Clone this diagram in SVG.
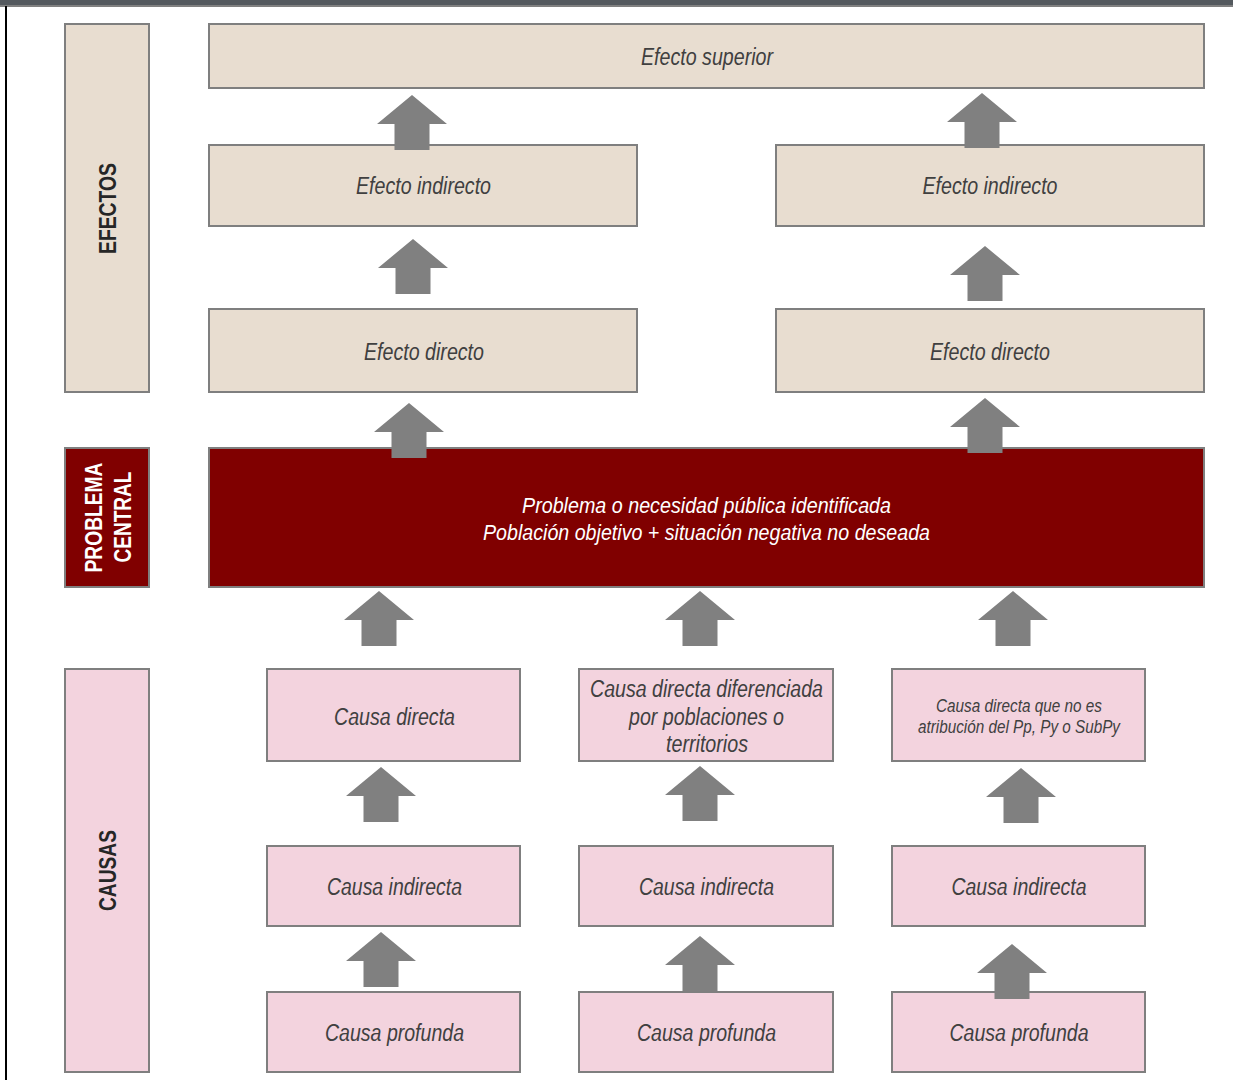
<svg xmlns="http://www.w3.org/2000/svg" width="1233" height="1080" viewBox="0 0 1233 1080">
<style>
.ef{fill:#e8ddd0;stroke:#7f7f7f;stroke-width:2}
.ca{fill:#f3d3de;stroke:#7f7f7f;stroke-width:2}
.pc{fill:#800000;stroke:#7f7f7f;stroke-width:2}
.t{font-family:"Liberation Sans",Arial,sans-serif;font-style:italic;font-size:23px;fill:#404040;text-anchor:middle}
.ts{font-size:17.5px}
.tw{fill:#ffffff;font-size:21.5px}
.lab{font-family:"Liberation Sans",Arial,sans-serif;font-weight:bold;font-size:23px;fill:#262626;text-anchor:middle}
.labw{fill:#ffffff}
.arr{fill:#808080}
</style>
<defs>
<path id="arr" class="arr" d="M0,0 L35,29 L17.5,29 L17.5,55 L-17.5,55 L-17.5,29 L-35,29 Z"/>
</defs>
<rect x="0" y="0" width="1233" height="1080" fill="#ffffff"/>
<rect x="0" y="0" width="1233" height="5" fill="#54595e"/>
<rect x="0" y="5" width="1233" height="2" fill="#808080"/>
<rect x="5" y="6" width="2" height="1074" fill="#000000"/>

<g id="label-efectos">
<rect class="ef" x="65" y="24" width="84" height="368"/>
<text class="lab" transform="translate(116,208.5) rotate(-90)" textLength="91" lengthAdjust="spacingAndGlyphs">EFECTOS</text>
</g>
<g id="label-problema">
<rect class="pc" x="65" y="448" width="84" height="139"/>
<text class="lab labw" transform="translate(102,517.5) rotate(-90)" textLength="110" lengthAdjust="spacingAndGlyphs">PROBLEMA</text>
<text class="lab labw" transform="translate(131,517) rotate(-90)" textLength="91" lengthAdjust="spacingAndGlyphs">CENTRAL</text>
</g>
<g id="label-causas">
<rect class="ca" x="65" y="669" width="84" height="403"/>
<text class="lab" transform="translate(116,870.5) rotate(-90)" textLength="81" lengthAdjust="spacingAndGlyphs">CAUSAS</text>
</g>

<g id="efecto-superior">
<rect class="ef" x="209" y="24" width="995" height="64"/>
<text class="t" x="707" y="65" textLength="132" lengthAdjust="spacingAndGlyphs">Efecto superior</text>
</g>
<g id="efecto-indirecto-1">
<rect class="ef" x="209" y="145" width="428" height="81"/>
<text class="t" x="423.5" y="194" textLength="135" lengthAdjust="spacingAndGlyphs">Efecto indirecto</text>
</g>
<g id="efecto-indirecto-2">
<rect class="ef" x="776" y="145" width="428" height="81"/>
<text class="t" x="990" y="194" textLength="135" lengthAdjust="spacingAndGlyphs">Efecto indirecto</text>
</g>
<g id="efecto-directo-1">
<rect class="ef" x="209" y="309" width="428" height="83"/>
<text class="t" x="424" y="360" textLength="120" lengthAdjust="spacingAndGlyphs">Efecto directo</text>
</g>
<g id="efecto-directo-2">
<rect class="ef" x="776" y="309" width="428" height="83"/>
<text class="t" x="990" y="360" textLength="120" lengthAdjust="spacingAndGlyphs">Efecto directo</text>
</g>

<g id="problema-central">
<rect class="pc" x="209" y="448" width="995" height="139"/>
<text class="t tw" x="706.5" y="512.5" textLength="369" lengthAdjust="spacingAndGlyphs">Problema o necesidad pública identificada</text>
<text class="t tw" x="706.5" y="539.5" textLength="447" lengthAdjust="spacingAndGlyphs">Población objetivo + situación negativa no deseada</text>
</g>

<g id="causa-directa-1">
<rect class="ca" x="267" y="669" width="253" height="92"/>
<text class="t" x="394.5" y="725" textLength="121" lengthAdjust="spacingAndGlyphs">Causa directa</text>
</g>
<g id="causa-directa-2">
<rect class="ca" x="579" y="669" width="254" height="92"/>
<text class="t" x="706.5" y="697" textLength="233" lengthAdjust="spacingAndGlyphs">Causa directa diferenciada</text>
<text class="t" x="706.5" y="724.5" textLength="155" lengthAdjust="spacingAndGlyphs">por poblaciones o</text>
<text class="t" x="707" y="752" textLength="82" lengthAdjust="spacingAndGlyphs">territorios</text>
</g>
<g id="causa-directa-3">
<rect class="ca" x="892" y="669" width="253" height="92"/>
<text class="t ts" x="1019" y="712" textLength="166" lengthAdjust="spacingAndGlyphs">Causa directa que no es</text>
<text class="t ts" x="1019" y="733" textLength="202" lengthAdjust="spacingAndGlyphs">atribución del Pp, Py o SubPy</text>
</g>

<g id="causa-indirecta-1">
<rect class="ca" x="267" y="846" width="253" height="80"/>
<text class="t" x="394.5" y="895" textLength="135" lengthAdjust="spacingAndGlyphs">Causa indirecta</text>
</g>
<g id="causa-indirecta-2">
<rect class="ca" x="579" y="846" width="254" height="80"/>
<text class="t" x="706.5" y="895" textLength="135" lengthAdjust="spacingAndGlyphs">Causa indirecta</text>
</g>
<g id="causa-indirecta-3">
<rect class="ca" x="892" y="846" width="253" height="80"/>
<text class="t" x="1019" y="895" textLength="135" lengthAdjust="spacingAndGlyphs">Causa indirecta</text>
</g>

<g id="causa-profunda-1">
<rect class="ca" x="267" y="992" width="253" height="80"/>
<text class="t" x="394.5" y="1041" textLength="139" lengthAdjust="spacingAndGlyphs">Causa profunda</text>
</g>
<g id="causa-profunda-2">
<rect class="ca" x="579" y="992" width="254" height="80"/>
<text class="t" x="706.5" y="1041" textLength="139" lengthAdjust="spacingAndGlyphs">Causa profunda</text>
</g>
<g id="causa-profunda-3">
<rect class="ca" x="892" y="992" width="253" height="80"/>
<text class="t" x="1019" y="1041" textLength="139" lengthAdjust="spacingAndGlyphs">Causa profunda</text>
</g>

<g id="connectors">
<use href="#arr" x="412" y="95"/>
<use href="#arr" x="982" y="93"/>
<use href="#arr" x="413" y="239"/>
<use href="#arr" x="985" y="246"/>
<use href="#arr" x="409" y="403"/>
<use href="#arr" x="985" y="398"/>
<use href="#arr" x="379" y="591"/>
<use href="#arr" x="700" y="591"/>
<use href="#arr" x="1013" y="591"/>
<use href="#arr" x="381" y="767"/>
<use href="#arr" x="700" y="766"/>
<use href="#arr" x="1021" y="768"/>
<use href="#arr" x="381" y="932"/>
<use href="#arr" x="700" y="936"/>
<use href="#arr" x="1012" y="944"/>
</g>
</svg>
